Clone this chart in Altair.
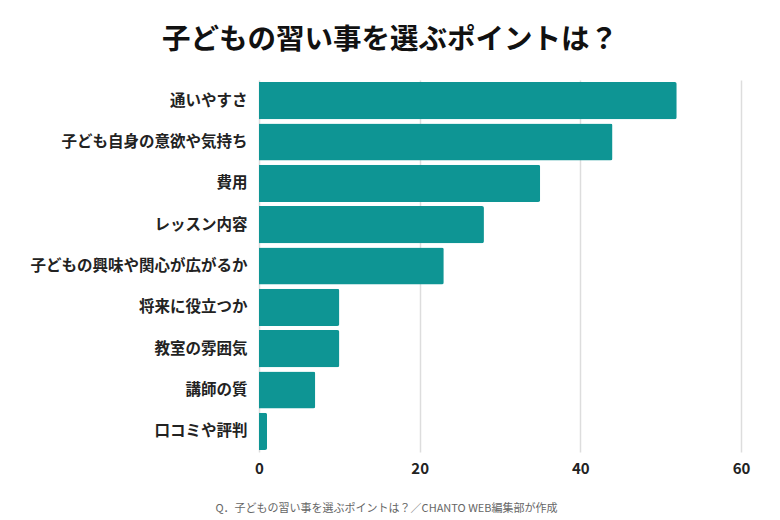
import altair as alt
import pandas as pd

categories = ["通いやすさ", "子ども自身の意欲や気持ち", "費用", "レッスン内容",
              "子どもの興味や関心が広がるか", "将来に役立つか", "教室の雰囲気",
              "講師の質", "口コミや評判"]
values = [52, 44, 35, 28, 23, 10, 10, 7, 1]
tick_values = [0, 20, 40, 60]

df = pd.DataFrame({"item": categories, "value": values})
FONT = "Noto Sans CJK JP"

chart = alt.Chart(df).mark_bar(color="#0E9594", cornerRadiusEnd=2).encode(
    x=alt.X("value:Q",
            scale=alt.Scale(domain=[0, 60], nice=False),
            axis=alt.Axis(values=tick_values, title="Q．子どもの習い事を選ぶポイントは？／CHANTO WEB編集部が作成",
                          titleFont=FONT, titleFontSize=11, titleFontWeight="normal",
                          titleColor="#666666", titleX=127, titleY=50, titleAlign="center",
                          labelFont=FONT, labelFontSize=15, labelFontWeight="bold",
                          labelColor="#222222", labelPadding=9, labelFlush=False,
                          domain=False, ticks=False, grid=True,
                          gridColor="#dddddd", gridWidth=1.5)),
    y=alt.Y("item:N", sort=categories,
            scale=alt.Scale(paddingInner=0.1, paddingOuter=0.05),
            axis=alt.Axis(title=None, labelFont=FONT, labelFontSize=15.5,
                          labelFontWeight="bold", labelColor="#222222", labelLimit=400,
                          labelPadding=12, domain=False, ticks=False)),
).properties(
    width=482, height=372,
    title=alt.TitleParams("子どもの習い事を選ぶポイントは？", font=FONT, fontSize=28.5,
                          fontWeight="bold", color="#111111", anchor="middle",
                          frame="bounds", offset=26),
    padding={"left": 21, "top": 17, "right": 20, "bottom": 10},
).configure_view(stroke=None)

chart.save("out.html", embed_options={"renderer": "svg", "actions": False})
